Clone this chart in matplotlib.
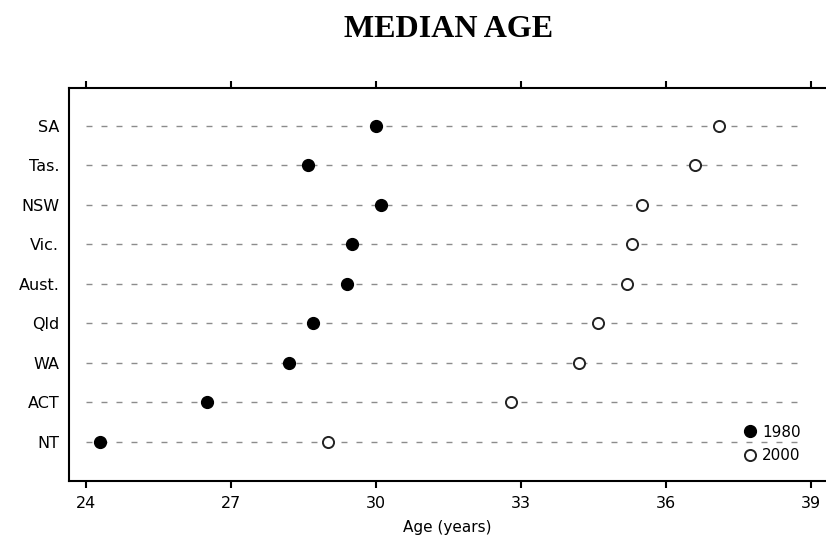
import matplotlib
matplotlib.use("Agg")
import matplotlib.pyplot as plt
from matplotlib.lines import Line2D

# data
regions = ["SA", "Tas.", "NSW", "Vic.", "Aust.", "Qld", "WA", "ACT", "NT"]
age_1980 = [30.0, 28.6, 30.1, 29.5, 29.4, 28.7, 28.2, 26.5, 24.3]
age_2000 = [37.1, 36.6, 35.5, 35.3, 35.2, 34.6, 34.2, 32.8, 29.0]
xticks = [24, 27, 30, 33, 36, 39]

fig = plt.figure(figsize=(8.26, 5.46), dpi=100)
ax = fig.add_axes([69 / 826, 65 / 546, 1 - 69 / 826, 393 / 546])

n = len(regions)
ypos = [n - 1 - i for i in range(n)]

# dotted guide lines
for y in ypos:
    ax.plot([24, 38.85], [y, y], color="#8c8c8c", lw=1.0, dashes=(4.3, 6.5), zorder=1)

ax.plot(age_1980, ypos, "o", ms=8.5, mfc="black", mec="black", ls="none", zorder=3)
ax.plot(age_2000, ypos, "o", ms=8, mfc="white", mec="#222222", mew=1.4, ls="none", zorder=3)

ax.set_xlim(23.65, 39.31)
ax.set_ylim(-1, 8.96)
ax.set_xticks(xticks)
ax.set_xticklabels([str(t) for t in xticks])
ax.set_yticks(ypos)
ax.set_yticklabels(regions)

ax.spines["right"].set_visible(False)
for s in ["left", "top", "bottom"]:
    ax.spines[s].set_linewidth(1.5)

ax.tick_params(axis="x", which="both", top=True, bottom=True, direction="out",
               length=5, width=1.5, labelsize=11.5, pad=6)
ax.tick_params(axis="y", length=0, labelsize=11.5, pad=7)

ax.set_xlabel("Age (years)", fontsize=11, labelpad=6)

fig.text(0.543, 0.946, "MEDIAN AGE", ha="center", va="center",
         fontsize=23, fontweight="bold", family="Liberation Serif")

handles = [
    Line2D([], [], marker="o", ls="none", ms=8.5, mfc="black", mec="black"),
    Line2D([], [], marker="o", ls="none", ms=8, mfc="white", mec="#222222", mew=1.4),
]
ax.legend(handles, ["1980", "2000"], loc="lower right", bbox_to_anchor=(0.975, 0.03),
          frameon=False, fontsize=11, handletextpad=0.3, labelspacing=0.55,
          handlelength=1.0, borderaxespad=0)

fig.savefig("out.png", dpi=100)
